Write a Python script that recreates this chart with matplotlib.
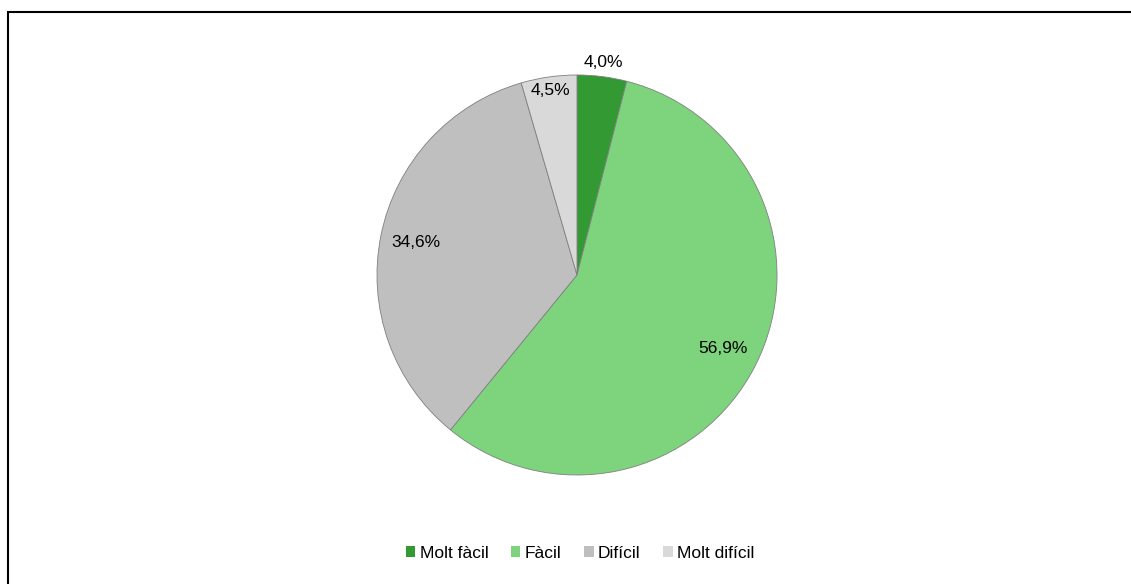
import numpy as np
import matplotlib
matplotlib.use('Agg')
import matplotlib.pyplot as plt
from matplotlib.patches import Rectangle, Patch

plt.rcParams['font.family'] = ['Liberation Sans', 'DejaVu Sans']

# data
categories = ['Molt fàcil', 'Fàcil', 'Difícil', 'Molt difícil']
values = [4.0, 56.9, 34.6, 4.5]
colors = ['#339933', '#7dd47d', '#bfbfbf', '#d9d9d9']
label_dist = [1.07, 0.82, 0.82, 0.93]

W, H = 1131, 584
fig = plt.figure(figsize=(W / 100, H / 100), dpi=100)

# pie axes: centre (577, 275) px, radius ~200 px
cx, cy, r = 577, 275, 200
ax = fig.add_axes([(cx - r) / W, (H - cy - r) / H, 2 * r / W, 2 * r / H])
wedges, _ = ax.pie(values, colors=colors, startangle=90, counterclock=False,
                   wedgeprops=dict(edgecolor='#7f7f7f', linewidth=0.6))
ax.set_xlim(-1, 1)
ax.set_ylim(-1, 1)
ax.set_aspect('equal')
ax.axis('off')

for w, v, d in zip(wedges, values, label_dist):
    ang = np.deg2rad((w.theta1 + w.theta2) / 2)
    ax.text(d * np.cos(ang), d * np.sin(ang), f'{v:.1f}%'.replace('.', ','),
            ha='center', va='center', fontsize=12.5, color='black')

# legend
handles = [Patch(facecolor=c, edgecolor='none') for c in colors]
fig.legend(handles, categories, loc='center', bbox_to_anchor=(580 / W, 1 - 553 / H),
           ncol=4, frameon=False, fontsize=12.5, handlelength=0.55, handleheight=0.55,
           handletextpad=0.25, columnspacing=1.3)

# chart frame (only top and left edges inside the picture)
fig.add_artist(Rectangle((8 / W, -0.2), 1.2, 1.2 - 12 / H, transform=fig.transFigure,
                         fill=False, edgecolor='black', linewidth=1.5))

fig.savefig('out.png', dpi=100)
